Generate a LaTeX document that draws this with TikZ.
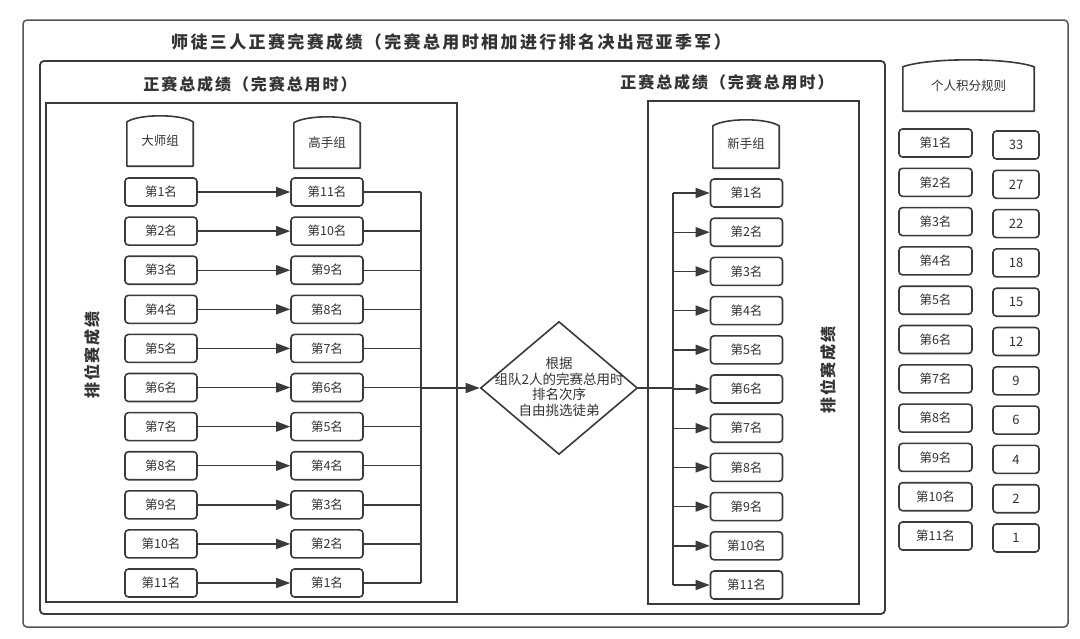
\documentclass[tikz,border=0pt]{standalone}
\usepackage{fontspec}
\newfontfamily\cjk{Noto Sans CJK SC}
\usetikzlibrary{shapes.geometric,arrows.meta,calc}
\definecolor{lc}{HTML}{3A3A3A}
\definecolor{tc}{HTML}{333333}
\definecolor{fc}{HTML}{555555}
% #1 node name, #2 bulge (pt), #3 bulge/3 (pt), #4 control x offset (pt)
\newcommand\headshape[4]{%
  \draw[hdline] (#1.south west) -- ([yshift=-#2pt]#1.north west)
    .. controls ([xshift=#4pt,yshift=#3pt]#1.north west) and ([xshift=-#4pt,yshift=#3pt]#1.north east)
    .. ([yshift=-#2pt]#1.north east) -- (#1.south east) -- cycle;}
\tikzset{
  rank/.style={draw=lc, line width=1.6pt, rounded corners=3.5pt, minimum width=72pt,
    minimum height=28pt, inner sep=0pt, text=tc, font=\cjk\fontsize{12.5}{14}\selectfont},
  valbox/.style={rank, minimum width=46pt, font=\cjk\fontsize{13}{15}\selectfont},
  head/.style={minimum width=66pt, minimum height=50pt, inner sep=0pt, text=tc,
    font=\cjk\fontsize{12.5}{14}\selectfont},
  hdline/.style={draw=lc, line width=1.6pt, line join=round},
  conn/.style={draw=lc, line width=1.4pt},
  arr/.style={conn, -{Triangle[length=14pt,width=10pt]}},
  frame/.style={draw=fc, line width=1.5pt},
  bigt/.style={text=tc, font=\cjk\bfseries\addfontfeatures{LetterSpace=14}\fontsize{17}{20}\selectfont},
  subt/.style={text=tc, inner sep=0pt, font=\cjk\bfseries\addfontfeatures{LetterSpace=12}\fontsize{16}{19}\selectfont},
  dtext/.style={text=tc, align=center, inner sep=0pt, font=\cjk\fontsize{13.5}{15.7}\selectfont},
  dia/.style={diamond, draw=lc, line width=1.6pt, minimum width=157pt, minimum height=133pt, inner sep=0pt}
}
\begin{document}
\begin{tikzpicture}[x=1pt,y=-1pt]
\useasboundingbox[fill=white] (0,0) rectangle (1080,638);
% frames
\draw[frame, rounded corners=4pt] (23,20) rectangle (1068,627);
\draw[frame, draw=lc, line width=1.8pt, rounded corners=4pt] (40,61) rectangle (885,614);
\draw[frame, draw=lc, line width=1.8pt] (46,103) rectangle (457,602);
\draw[frame, draw=lc, line width=1.8pt] (648,101) rectangle (859,604);
% titles
\node[bigt] (title) at (451,42) {师徒三人正赛完赛成绩（完赛总用时相加进行排名决出冠亚季军）};
\node[subt] (hl) at (250,84) {正赛总成绩（完赛总用时）};
\node[subt] (hr) at (727,82) {正赛总成绩（完赛总用时）};
\node[subt, rotate=90] (vtl) at (92,355) {排位赛成绩};
\node[subt, rotate=90] (vtr) at (828,370) {排位赛成绩};
% group headers
\node[head] (hA) at (160,141) {大师组};
\headshape{hA}{6}{2}{13}
\node[head, minimum height=51pt] (hB) at (327,142.5) {高手组};
\headshape{hB}{6}{2}{13}
\node[head, minimum height=48pt] (hC) at (746,144) {新手组};
\headshape{hC}{6}{2}{13}
\node[head, minimum width=131pt, minimum height=51pt] (hR) at (968.5,85.5) {个人积分规则};
\headshape{hR}{7}{2.3}{26}
% connector columns
\coordinate (vl) at (421,0);
\coordinate (vr) at (673,0);
\node[dia] (d) at (559,388) {};
\node[dtext] (dt) at (559,387) {根据\\组队2人的完赛总用时\\排名次序\\自由挑选徒弟};
\foreach \i in {1,...,11}{
  \pgfmathsetmacro\yy{192+39.1*(\i-1)}
  \pgfmathsetmacro\yr{193+39.2*(\i-1)}
  \pgfmathtruncatemacro\j{12-\i}
  \node[rank] (l\i) at (161,\yy) {第\i{}名};
  \node[rank] (m\i) at (327,\yy) {第\j{}名};
  \node[rank] (r\i) at (746.5,\yr) {第\i{}名};
  \draw[arr] (l\i) -- (m\i);
  \draw[conn] (m\i.east) -- (m\i.east -| vl);
  \draw[arr] (r\i.west -| vr) -- (r\i.west);
}
\draw[conn] (m1.east -| vl) -- (m11.east -| vl);
\draw[arr] (d.west -| vl) -- (d.west);
\draw[conn] (d.east) -- (d.east -| vr);
\draw[conn] (r1.west -| vr) -- (r11.west -| vr);
% scoring rules
\foreach \i/\v in {1/33,2/27,3/22,4/18,5/15,6/12,7/9,8/6,9/4,10/2,11/1}{
  \pgfmathsetmacro\yy{143+39.3*(\i-1)}
  \node[rank, minimum width=73pt] (p\i) at (935.5,\yy) {第\i{}名};
  \node[valbox] (v\i) at (1016,\yy+2) {\v};
}
\end{tikzpicture}
\end{document}
